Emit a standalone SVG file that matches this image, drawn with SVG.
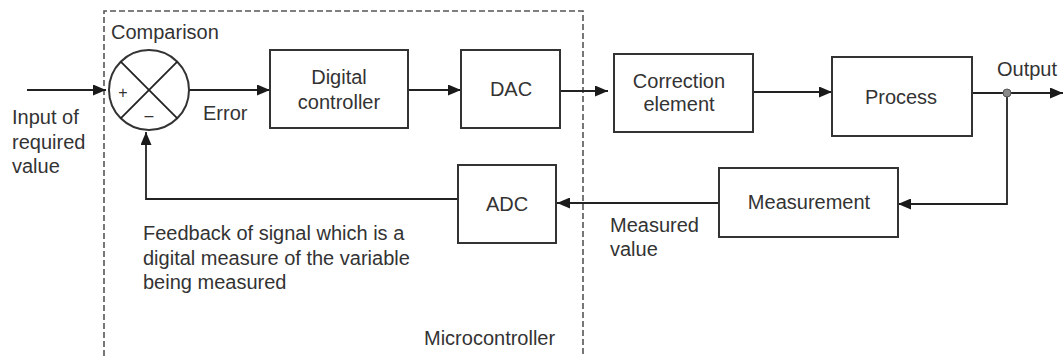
<svg xmlns="http://www.w3.org/2000/svg" width="1063" height="356" viewBox="0 0 1063 356">
<defs>
<marker id="ah" markerWidth="13" markerHeight="11" refX="13" refY="5.5" orient="auto" markerUnits="userSpaceOnUse">
<path d="M0,0 L13,5.5 L0,11 Z" fill="#1a1a1a"/>
</marker>
<style>
.box{fill:#fff;stroke:#333;stroke-width:2}
.ln{fill:none;stroke:#222;stroke-width:1.8}
.t{font-family:"Liberation Sans",Arial,sans-serif;font-size:20px;fill:#333}
.c{text-anchor:middle}
.dash{fill:none;stroke:#555;stroke-width:1.6;stroke-dasharray:6 3}
</style>
</defs>
<rect width="1063" height="356" fill="#fff"/>
<g id="microcontroller">
<path class="dash" d="M104,356 L104,11 L583,11 L583,356"/>
<text class="t" x="424" y="345">Microcontroller</text>
</g>
<g id="connectors">
<line class="ln" x1="27" y1="90" x2="106" y2="90" marker-end="url(#ah)"/>
<line class="ln" x1="189" y1="90" x2="270" y2="90" marker-end="url(#ah)"/>
<line class="ln" x1="408" y1="90" x2="461" y2="90" marker-end="url(#ah)"/>
<line class="ln" x1="560" y1="91" x2="608" y2="91" marker-end="url(#ah)"/>
<line class="ln" x1="753" y1="92" x2="832" y2="92" marker-end="url(#ah)"/>
<line class="ln" x1="972" y1="93" x2="1063" y2="93" marker-end="url(#ah)"/>
<polyline class="ln" points="1007,93 1007,204 898,204" marker-end="url(#ah)"/>
<line class="ln" x1="719" y1="203" x2="557" y2="203" marker-end="url(#ah)"/>
<polyline class="ln" points="458,199 146,199 146,132" marker-end="url(#ah)"/>
<circle cx="1007" cy="93" r="4" fill="#8a8a8a" stroke="#555" stroke-width="1"/>
</g>
<g id="comparison">
<circle cx="149" cy="90" r="40" fill="#fff" stroke="#333" stroke-width="2"/>
<line class="ln" x1="120.7" y1="61.7" x2="177.3" y2="118.3"/>
<line class="ln" x1="177.3" y1="61.7" x2="120.7" y2="118.3"/>
<text class="t" x="123" y="98" style="font-size:16px" text-anchor="middle">+</text>
<text class="t" x="149" y="121" style="font-size:16px" text-anchor="middle">–</text>
<text class="t" x="111" y="39">Comparison</text>
</g>
<g id="input">
<text class="t" x="12" y="124">Input of</text>
<text class="t" x="12" y="149">required</text>
<text class="t" x="12" y="173">value</text>
</g>
<g id="error-label"><text class="t" x="203" y="120">Error</text></g>
<g id="digital-controller">
<rect class="box" x="270" y="50" width="138" height="78"/>
<text class="t c" x="339" y="84">Digital</text>
<text class="t c" x="339" y="109">controller</text>
</g>
<g id="dac">
<rect class="box" x="461" y="50" width="99" height="78"/>
<text class="t c" x="511" y="96">DAC</text>
</g>
<g id="correction-element">
<rect class="box" x="614" y="54" width="139" height="78"/>
<text class="t c" x="679" y="88">Correction</text>
<text class="t c" x="679" y="111">element</text>
</g>
<g id="process">
<rect class="box" x="832" y="57" width="140" height="79"/>
<text class="t c" x="901" y="104">Process</text>
</g>
<g id="output-label"><text class="t" x="997" y="76">Output</text></g>
<g id="measurement">
<rect class="box" x="719" y="168" width="179" height="69"/>
<text class="t c" x="809" y="209">Measurement</text>
</g>
<g id="measured-label">
<text class="t" x="610" y="232">Measured</text>
<text class="t" x="610" y="256">value</text>
</g>
<g id="adc">
<rect class="box" x="458" y="165" width="98" height="78"/>
<text class="t c" x="507" y="211">ADC</text>
</g>
<g id="feedback-label">
<text class="t" x="143" y="240">Feedback of signal which is a</text>
<text class="t" x="143" y="265">digital measure of the variable</text>
<text class="t" x="143" y="289">being measured</text>
</g>
</svg>
